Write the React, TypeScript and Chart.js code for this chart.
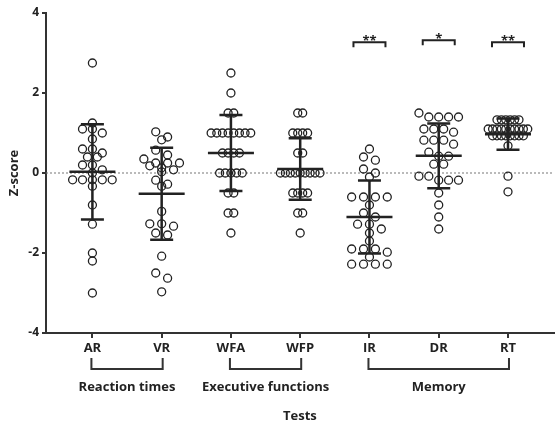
import React, { useEffect, useRef } from 'react';
import { Chart, registerables } from 'chart.js';

Chart.register(...registerables);

// ---------- data ----------
const categories = ['AR', 'VR', 'WFA', 'WFP', 'IR', 'DR', 'RT'];

const arValues = [2.75, 1.25, 1.1, 1.0, 1.1, 0.85, 0.6, 0.6, 0.5, 0.4, 0.4, 0.2, 0.2, 0.08, 0.0,
  -0.17, -0.17, -0.17, -0.17, -0.17, -0.33, -0.8, -1.28, -2.0, -2.2, -3.0];
const vrValues = [1.03, 0.9, 0.83, 0.57, 0.45, 0.35, 0.25, 0.25, 0.25, 0.18, 0.13, 0.08, 0.03,
  -0.18, -0.28, -0.33, -0.96, -1.27, -1.27, -1.33, -1.5, -1.55, -2.08, -2.5, -2.63, -2.97];
const wfaValues = [2.5, 2.0, 1.5, 1.5, 1.0, 1.0, 1.0, 1.0, 1.0, 1.0, 1.0, 1.0, 0.5, 0.5, 0.5, 0.5,
  0, 0, 0, 0, 0, -0.5, -0.5, -1.0, -1.0, -1.5];
const wfpValues = [1.5, 1.5, 1.0, 1.0, 1.0, 1.0, 0.5, 0.5, 0, 0, 0, 0, 0, 0, 0, 0, 0,
  -0.5, -0.5, -0.5, -0.5, -1.0, -1.0, -1.5];
const irValues = [0.6, 0.4, 0.32, 0.1, 0.0, -0.1, -0.6, -0.6, -0.6, -0.6, -0.8, -1.0, -1.1,
  -1.28, -1.28, -1.4, -1.5, -1.7, -1.9, -1.9, -1.9, -1.98, -2.1, -2.28, -2.28, -2.28, -2.28];
const drValues = [1.5, 1.4, 1.4, 1.4, 1.4, 1.1, 1.1, 1.1, 1.02, 0.82, 0.82, 0.82, 0.72, 0.52,
  0.42, 0.42, 0.22, 0.22, -0.08, -0.08, -0.18, -0.18, -0.18, -0.5, -0.8, -1.1, -1.4];
const rtValues = [1.33, 1.33, 1.33, 1.33, 1.33, 1.33, 1.1, 1.1, 1.1, 1.1, 1.1, 1.1, 1.1, 1.1, 1.1, 1.1,
  0.93, 0.93, 0.93, 0.93, 0.93, 0.93, 0.93, 0.93, 0.68, -0.08, -0.47];

const seriesValues = [arValues, vrValues, wfaValues, wfpValues, irValues, drValues, rtValues];

// mean and SD as shown by the error bars
const means = [0.03, -0.52, 0.5, 0.1, -1.1, 0.43, 0.97];
const sds = [1.19, 1.15, 0.95, 0.77, 0.91, 0.81, 0.39];

// significance annotations
const sigLabels = ['', '', '', '', '**', '*', '**'];
const sigLevels = [0, 0, 0, 0, 3.27, 3.32, 3.27];

// category groups
const groupNames = ['Reaction times', 'Executive functions', 'Memory'];
const groupStarts = [1, 3, 5];
const groupEnds = [2, 4, 7];

const yMin = -4;
const yMax = 4;
const yStep = 2;

const yTitle = 'Z-score';
const xTitle = 'Tests';

// ---------- style ----------
const FONT = '"Open Sans", Lato, "DejaVu Sans", sans-serif';
const INK = '#222';
const AXIS = '#333';
const ROW_TOL = 0.145;
const ROW_SPAN = 40 / 70;
const MAX_STEP = 12 / 70;

function swarm(values: number[], center: number) {
  const sorted = [...values].sort((a, b) => b - a);
  const rows: number[][] = [];
  for (const v of sorted) {
    const row = rows[rows.length - 1];
    if (row && row[0] - v < ROW_TOL) row.push(v);
    else rows.push([v]);
  }
  const maxRow = Math.max(...rows.map((r) => r.length));
  const step = maxRow > 1 ? Math.min(MAX_STEP, ROW_SPAN / (maxRow - 1)) : 0;
  const pts: { x: number; y: number }[] = [];
  rows.forEach((r) =>
    r.forEach((v, i) => pts.push({ x: center + (i - (r.length - 1) / 2) * step, y: v }))
  );
  return pts;
}

const decorPlugin = {
  id: 'decor',
  beforeDatasetsDraw(chart: any) {
    const { ctx, chartArea, scales } = chart;
    const y0 = scales.y.getPixelForValue(0);
    ctx.save();
    ctx.strokeStyle = '#777';
    ctx.lineWidth = 1;
    ctx.setLineDash([2, 2]);
    ctx.beginPath();
    ctx.moveTo(chartArea.left, y0);
    ctx.lineTo(chartArea.right, y0);
    ctx.stroke();
    ctx.restore();
  },
  afterDatasetsDraw(chart: any) {
    const { ctx, chartArea, scales } = chart;
    const xs = scales.x;
    const ys = scales.y;
    ctx.save();
    ctx.strokeStyle = INK;
    ctx.lineCap = 'butt';
    // error bars
    means.forEach((m, i) => {
      const cx = xs.getPixelForValue(i + 1);
      const pm = ys.getPixelForValue(m);
      const pt = ys.getPixelForValue(m + sds[i]);
      const pb = ys.getPixelForValue(m - sds[i]);
      ctx.lineWidth = 2.5;
      ctx.beginPath();
      ctx.moveTo(cx - 23, pm); ctx.lineTo(cx + 23, pm);
      ctx.moveTo(cx, pt); ctx.lineTo(cx, pb);
      ctx.moveTo(cx - 11.5, pt); ctx.lineTo(cx + 11.5, pt);
      ctx.moveTo(cx - 11.5, pb); ctx.lineTo(cx + 11.5, pb);
      ctx.stroke();
    });
    // significance brackets
    ctx.fillStyle = INK;
    ctx.font = `bold 13px ${FONT}`;
    ctx.textAlign = 'center';
    ctx.textBaseline = 'alphabetic';
    sigLabels.forEach((s, i) => {
      if (!s) return;
      const cx = xs.getPixelForValue(i + 1);
      const py = ys.getPixelForValue(sigLevels[i]);
      ctx.lineWidth = 2;
      ctx.beginPath();
      ctx.moveTo(cx - 16, py + 5);
      ctx.lineTo(cx - 16, py);
      ctx.lineTo(cx + 16, py);
      ctx.lineTo(cx + 16, py + 5);
      ctx.stroke();
      ctx.fillText(s, cx, py + 3);
    });
    // group brackets
    const base = chartArea.bottom;
    groupNames.forEach((g, i) => {
      const x1 = xs.getPixelForValue(groupStarts[i]) - 1;
      const x2 = xs.getPixelForValue(groupEnds[i]) + 1;
      ctx.strokeStyle = AXIS;
      ctx.lineWidth = 2;
      ctx.beginPath();
      ctx.moveTo(x1, base + 25);
      ctx.lineTo(x1, base + 36);
      ctx.lineTo(x2, base + 36);
      ctx.lineTo(x2, base + 25);
      ctx.stroke();
      ctx.textBaseline = 'middle';
      ctx.fillText(g, (x1 + x2) / 2, base + 54);
    });
    // axis titles
    ctx.textBaseline = 'middle';
    ctx.fillText(xTitle, (chartArea.left + chartArea.right) / 2, base + 83);
    ctx.translate(14, (chartArea.top + chartArea.bottom) / 2);
    ctx.rotate(-Math.PI / 2);
    ctx.fillText(yTitle, 0, 0);
    ctx.restore();
  },
};

export default function App() {
  const ref = useRef<HTMLCanvasElement | null>(null);
  useEffect(() => {
    if (!ref.current) return;
    Chart.defaults.font.family = FONT;
    const chart = new Chart(ref.current, {
      type: 'scatter',
      data: {
        datasets: seriesValues.map((vals, i) => ({
          label: categories[i],
          data: swarm(vals, i + 1),
          pointRadius: 4,
          pointHoverRadius: 4,
          pointBorderWidth: 1.3,
          borderColor: INK,
          backgroundColor: 'rgba(0,0,0,0)',
          showLine: false,
        })),
      },
      options: {
        animation: false,
        responsive: false,
        devicePixelRatio: 1,
        layout: { padding: { top: 13, right: 0, left: 0, bottom: 0 } },
        plugins: { legend: { display: false }, tooltip: { enabled: false } },
        scales: {
          x: {
            type: 'linear',
            min: 0.33,
            max: 7.66,
            afterBuildTicks: (s: any) => {
              s.ticks = categories.map((_, i) => ({ value: i + 1 }));
            },
            afterFit: (s: any) => { s.height = 92; },
            ticks: {
              autoSkip: false,
              maxRotation: 0,
              padding: 2,
              color: INK,
              font: { size: 13, weight: 'bold' },
              callback: (v: any) => categories[Math.round(v) - 1] ?? '',
            },
            grid: { drawOnChartArea: false, tickLength: 5, color: AXIS, lineWidth: 2 },
            border: { color: AXIS, width: 2 },
          },
          y: {
            min: yMin,
            max: yMax,
            afterFit: (s: any) => { s.width = 46; },
            ticks: { stepSize: yStep, padding: 3, color: INK, font: { size: 12, weight: 'bold' } },
            grid: { drawOnChartArea: false, tickLength: 4, color: AXIS, lineWidth: 2 },
            border: { color: AXIS, width: 2 },
          },
        },
      } as any,
      plugins: [decorPlugin],
    });
    return () => chart.destroy();
  }, []);
  return (
    <div style={{ position: 'absolute', left: 0, top: 0, width: 559, height: 425, background: '#fff' }}>
      <canvas ref={ref} width={559} height={425} />
    </div>
  );
}
